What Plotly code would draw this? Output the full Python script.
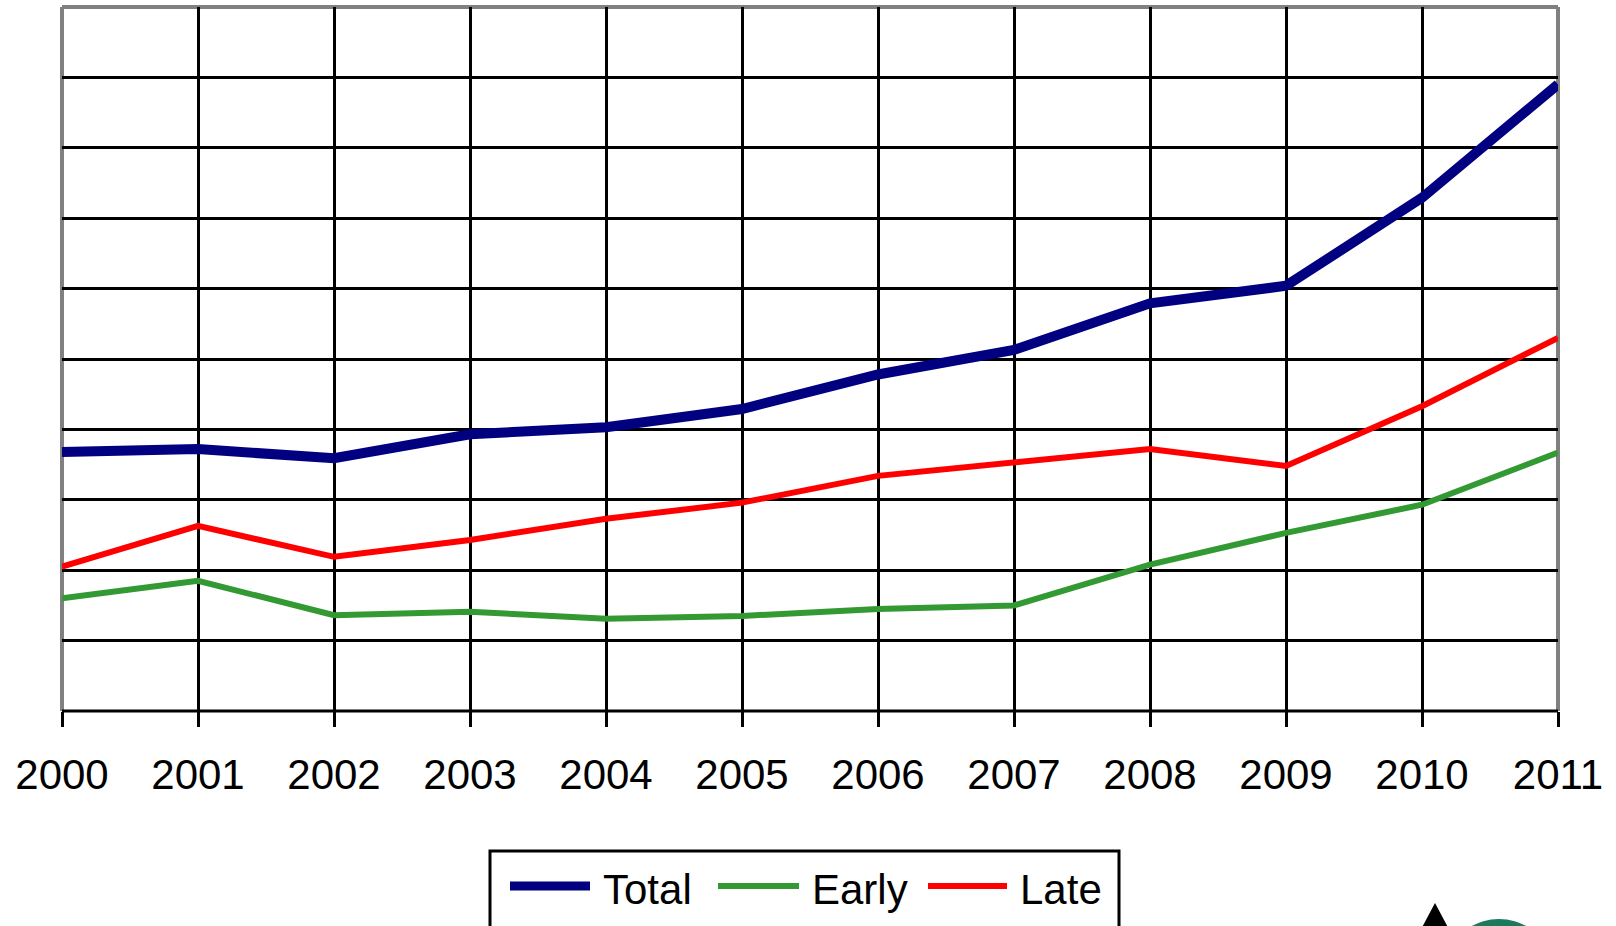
import plotly.graph_objects as go

# Yearly series
years = [2000, 2001, 2002, 2003, 2004, 2005, 2006, 2007, 2008, 2009, 2010, 2011]
total = [3.68, 3.72, 3.59, 3.93, 4.03, 4.29, 4.78, 5.13, 5.79, 6.04, 7.29, 8.90]
early = [1.60, 1.85, 1.36, 1.41, 1.31, 1.35, 1.45, 1.50, 2.08, 2.53, 2.93, 3.67]
late = [2.05, 2.63, 2.19, 2.43, 2.73, 2.96, 3.34, 3.54, 3.72, 3.48, 4.33, 5.30]

series_names = ["Total", "Early", "Late"]
series_values = [total, early, late]
series_colors = ["#000080", "#339933", "#FF0000"]
series_widths = [10, 6, 6]

W, H = 1616, 926
ML, MR, MT, MB = 62, 58, 7, 215
PW = W - ML - MR
PH = H - MT - MB


def px_x(x):
    return (x - ML) / PW


def px_y(y):
    return (H - MB - y) / PH


fig = go.Figure()
for name, vals, col, lw in zip(series_names, series_values, series_colors, series_widths):
    fig.add_trace(go.Scatter(
        x=years, y=vals, name=name, mode="lines",
        line=dict(color=col, width=lw), cliponaxis=False,
    ))

shapes = []
# frame: grey top/left/right, black bottom axis
shapes.append(dict(type="line", xref="paper", yref="paper", x0=0, x1=1, y0=1, y1=1,
                   line=dict(color="#808080", width=4), layer="between"))
shapes.append(dict(type="line", xref="paper", yref="paper", x0=0, x1=0, y0=0, y1=1,
                   line=dict(color="#808080", width=4), layer="between"))
shapes.append(dict(type="line", xref="paper", yref="paper", x0=1, x1=1, y0=0, y1=1,
                   line=dict(color="#808080", width=4), layer="between"))
shapes.append(dict(type="line", xref="paper", yref="paper", x0=0, x1=1, y0=0, y1=0,
                   line=dict(color="black", width=3), layer="between"))

# legend box (drawn manually so the sample lines can be long)
shapes.append(dict(type="rect", xref="paper", yref="paper",
                   x0=px_x(490), x1=px_x(1119), y0=px_y(851), y1=px_y(960),
                   line=dict(color="black", width=3), fillcolor="white", layer="above"))

annotations = []
legend_items = [(510, 590, 601), (718, 799, 810), (928, 1007, 1018)]
for (lx0, lx1, tx), name, col, lw in zip(legend_items, series_names, series_colors, series_widths):
    shapes.append(dict(type="line", xref="paper", yref="paper",
                       x0=px_x(lx0), x1=px_x(lx1), y0=px_y(886), y1=px_y(886),
                       line=dict(color=col, width=min(lw, 9)), layer="above"))
    annotations.append(dict(xref="paper", yref="paper", x=px_x(tx), y=px_y(889),
                            text=name, showarrow=False, xanchor="left", yanchor="middle",
                            font=dict(family="Liberation Sans, Arial", size=42, color="black")))

# corner logo fragment
shapes.append(dict(type="path", xref="paper", yref="paper",
                   path=f"M {px_x(1435)},{px_y(903)} L {px_x(1460)},{px_y(950)} L {px_x(1410)},{px_y(950)} Z",
                   fillcolor="black", line=dict(width=0), layer="above"))
shapes.append(dict(type="circle", xref="paper", yref="paper",
                   x0=px_x(1458), x1=px_x(1540), y0=px_y(919), y1=px_y(975),
                   fillcolor="#1b7a5c", line=dict(width=0), layer="above"))

fig.update_layout(
    width=W, height=H,
    margin=dict(l=ML, r=MR, t=MT, b=MB, pad=0),
    paper_bgcolor="white", plot_bgcolor="white",
    showlegend=False,
    shapes=shapes, annotations=annotations,
    font=dict(family="Liberation Sans, Arial", size=42, color="black"),
)
fig.update_xaxes(
    range=[2000, 2011], tickvals=years, ticktext=[str(y) for y in years],
    showgrid=True, gridcolor="black", gridwidth=3,
    ticks="outside", ticklen=15, tickwidth=3, tickcolor="black",
    ticklabelstandoff=12,
    showline=False, zeroline=False,
    tickfont=dict(family="Liberation Sans, Arial", size=42, color="black"),
)
fig.update_yaxes(
    range=[0, 10], dtick=1, tick0=0,
    showgrid=True, gridcolor="black", gridwidth=3,
    showticklabels=False, ticks="", showline=False, zeroline=False,
)

fig.write_html("out.html")
